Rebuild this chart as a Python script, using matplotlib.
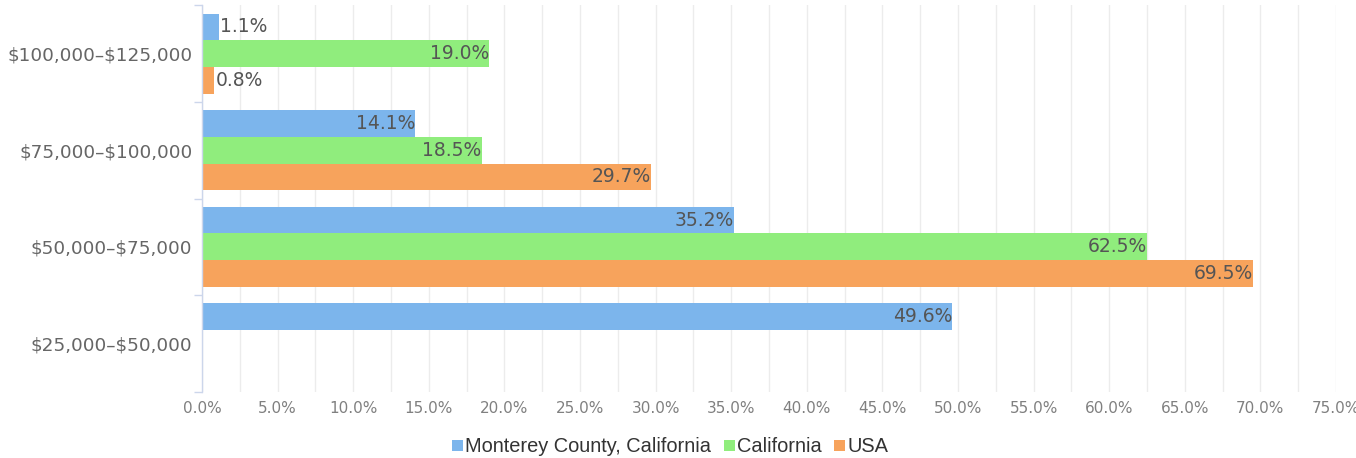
import matplotlib
matplotlib.use("Agg")
import matplotlib.pyplot as plt
from matplotlib.patches import Patch
import numpy as np

categories = ["$100,000–$125,000", "$75,000–$100,000", "$50,000–$75,000", "$25,000–$50,000"]
series_names = ["Monterey County, California", "California", "USA"]
monterey = [1.1, 14.1, 35.2, 49.6]
california = [19.0, 18.5, 62.5, None]
usa = [0.8, 29.7, 69.5, None]
colors = ["#7cb5ec", "#90ed7d", "#f7a35c"]
x_ticks = [0, 5, 10, 15, 20, 25, 30, 35, 40, 45, 50, 55, 60, 65, 70, 75]

fig = plt.figure(figsize=(13.56, 4.58), dpi=100)
ax = fig.add_axes([202/1356, 66.3/458, (1336-202)/1356, (391.7-5.3)/458])

bar_h = 0.276
offsets = [-bar_h, 0.0, bar_h]
y = np.arange(len(categories))
for vals, off, col in zip([monterey, california, usa], offsets, colors):
    for yi, v in zip(y, vals):
        if v is None:
            continue
        ax.barh(yi + off, v, height=bar_h, color=col, edgecolor="none", zorder=2)
        label = f"{v:.1f}%"
        if v < 5:
            ax.annotate(label, (v, yi + off), xytext=(1, 0), textcoords="offset points",
                        ha="left", va="center", fontsize=13.5, color="#555555",
                        family="DejaVu Sans", zorder=3)
        else:
            ax.annotate(label, (v, yi + off), xytext=(0, 0), textcoords="offset points",
                        ha="right", va="center", fontsize=13.5, color="#555555",
                        family="DejaVu Sans", zorder=3)

ax.set_xlim(0, 75)
ax.set_ylim(len(categories) - 0.5, -0.5)
ax.set_xticks(x_ticks)
ax.set_xticklabels([f"{t:.1f}%" for t in x_ticks], fontsize=11, color="#808080", family="DejaVu Sans")
ax.set_xticks(np.arange(2.5, 75, 5), minor=True)
ax.grid(axis="x", which="both", color="#ececec", linewidth=1, zorder=0)
ax.tick_params(axis="x", which="both", length=0, pad=7)

ax.set_yticks(y)
ax.set_yticklabels([c.replace("$", r"\$") for c in categories], fontsize=13.3,
                   color="#666666", family="DejaVu Sans")
ax.set_yticks(np.arange(-0.5, len(categories), 1), minor=True)
ax.tick_params(axis="y", which="major", length=0, pad=7)
ax.tick_params(axis="y", which="minor", length=6, color="#ccd6eb", width=1)

for s in ["top", "right", "bottom"]:
    ax.spines[s].set_visible(False)
ax.spines["left"].set_color("#ccd6eb")
ax.spines["left"].set_linewidth(1)

handles = [Patch(facecolor=c, edgecolor="none") for c in colors]
fig.legend(handles, series_names, loc="center", bbox_to_anchor=(670/1356, 11/458),
           ncol=3, frameon=False, prop={"family": "Liberation Sans", "size": 14.4},
           labelcolor="#333333", handlelength=0.55, handleheight=0.45,
           handletextpad=0.1, columnspacing=0.65, borderpad=0, borderaxespad=0)

fig.savefig("out.png", dpi=100)
